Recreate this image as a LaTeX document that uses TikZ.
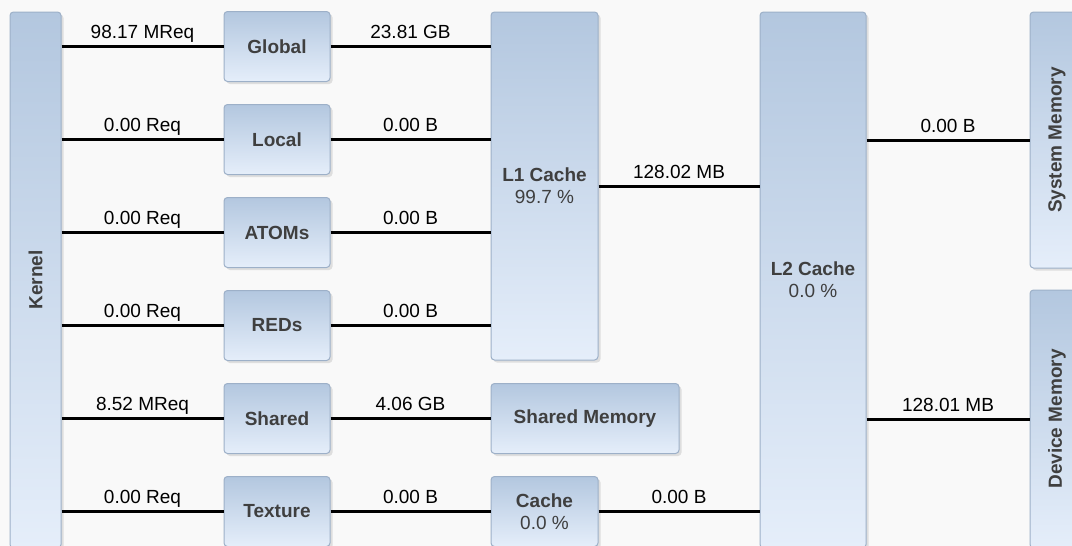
\documentclass[tikz,border=0pt]{standalone}
\usepackage{fontspec}
\setmainfont{Liberation Sans}
\usetikzlibrary{shadows}
\definecolor{bg}{HTML}{F9F9F9}
\definecolor{boxtop}{HTML}{B3C7DF}
\definecolor{boxbot}{HTML}{E5EEFA}
\definecolor{boxline}{HTML}{9DB0C8}
\definecolor{boxtext}{HTML}{3F3F3F}
\newcommand{\pct}[1]{{\mdseries #1}}
\begin{document}
\begin{tikzpicture}[x=1pt,y=-1pt,
  blk/.style={draw=boxline, line width=1pt, rounded corners=3.5pt,
    top color=boxtop, bottom color=boxbot,
    drop shadow={shadow xshift=2.5pt, shadow yshift=-2.5pt, opacity=0.22},
    inner sep=0pt, font=\fontsize{19}{22}\selectfont\bfseries,
    text=boxtext, align=center},
  vtext/.style={rotate=90, font=\fontsize{19}{22}\selectfont\bfseries, text=boxtext, inner sep=0pt},
  wire/.style={line width=3pt, black},
  lbl/.style={font=\fontsize{19}{22}\selectfont, anchor=base, yshift=8pt, inner sep=0pt, text=black}]
\useasboundingbox (0,0) rectangle (1072,546);
\clip (0,0) rectangle (1072,546);
\fill[bg] (0,0) rectangle (1072,546);

% boxes
\node[blk, minimum width=51pt, minimum height=536pt] (kernel) at (35.5,280) {};
\node[vtext] (kernellbl) at (kernel.center) {Kernel};

\node[blk, minimum width=106pt, minimum height=70pt] (global)  at (277,46.5)  {Global};
\node[blk, minimum width=106pt, minimum height=70pt] (local)   at (277,139.5) {Local};
\node[blk, minimum width=106pt, minimum height=70pt] (atoms)   at (277,232.5) {ATOMs};
\node[blk, minimum width=106pt, minimum height=70pt] (reds)    at (277,325.5) {REDs};
\node[blk, minimum width=106pt, minimum height=70pt] (shared)  at (277,418.5) {Shared};
\node[blk, minimum width=106pt, minimum height=70pt] (texture) at (277,511.5) {Texture};

\node[blk, minimum width=107pt, minimum height=348pt] (l1) at (544.5,186) {L1 Cache\\\pct{99.7 \%}};
\node[blk, minimum width=188pt, minimum height=70pt] (shmem) at (585,418.5) {Shared Memory};
\node[blk, minimum width=107pt, minimum height=70pt] (cache) at (544.5,511.5) {Cache\\\pct{0.0 \%}};

\node[blk, minimum width=106pt, minimum height=536pt] (l2) at (813,280) {L2 Cache\\\pct{0.0 \%}};

\node[blk, minimum width=54pt, minimum height=256pt] (sysmem) at (1057,140) {};
\node[vtext] (sysmemlbl) at (sysmem.center) {System Memory};
\node[blk, minimum width=54pt, minimum height=258pt] (devmem) at (1057,419) {};
\node[vtext] (devmemlbl) at (devmem.center) {Device Memory};

% kernel to units
\draw[wire] (kernel.east |- global.west) -- node[lbl] {98.17 MReq} (global.west);
\draw[wire] (kernel.east |- local.west) -- node[lbl] {0.00 Req} (local.west);
\draw[wire] (kernel.east |- atoms.west) -- node[lbl] {0.00 Req} (atoms.west);
\draw[wire] (kernel.east |- reds.west) -- node[lbl] {0.00 Req} (reds.west);
\draw[wire] (kernel.east |- shared.west) -- node[lbl] {8.52 MReq} (shared.west);
\draw[wire] (kernel.east |- texture.west) -- node[lbl] {0.00 Req} (texture.west);

% units to L1 / shared memory / texture cache
\draw[wire] (global.east) -- node[lbl] {23.81 GB} (global.east -| l1.west);
\draw[wire] (local.east) -- node[lbl] {0.00 B} (local.east -| l1.west);
\draw[wire] (atoms.east) -- node[lbl] {0.00 B} (atoms.east -| l1.west);
\draw[wire] (reds.east) -- node[lbl] {0.00 B} (reds.east -| l1.west);
\draw[wire] (shared.east) -- node[lbl] {4.06 GB} (shmem.west);
\draw[wire] (texture.east) -- node[lbl] {0.00 B} (cache.west);

% to L2
\draw[wire] (l1.east) -- node[lbl] {128.02 MB} (l1.east -| l2.west);
\draw[wire] (cache.east) -- node[lbl] {0.00 B} (cache.east -| l2.west);

% L2 to memories
\draw[wire] (l2.east |- sysmem.west) -- node[lbl] {0.00 B} (sysmem.west);
\draw[wire] (l2.east |- devmem.west) -- node[lbl] {128.01 MB} (devmem.west);
\end{tikzpicture}
\end{document}
